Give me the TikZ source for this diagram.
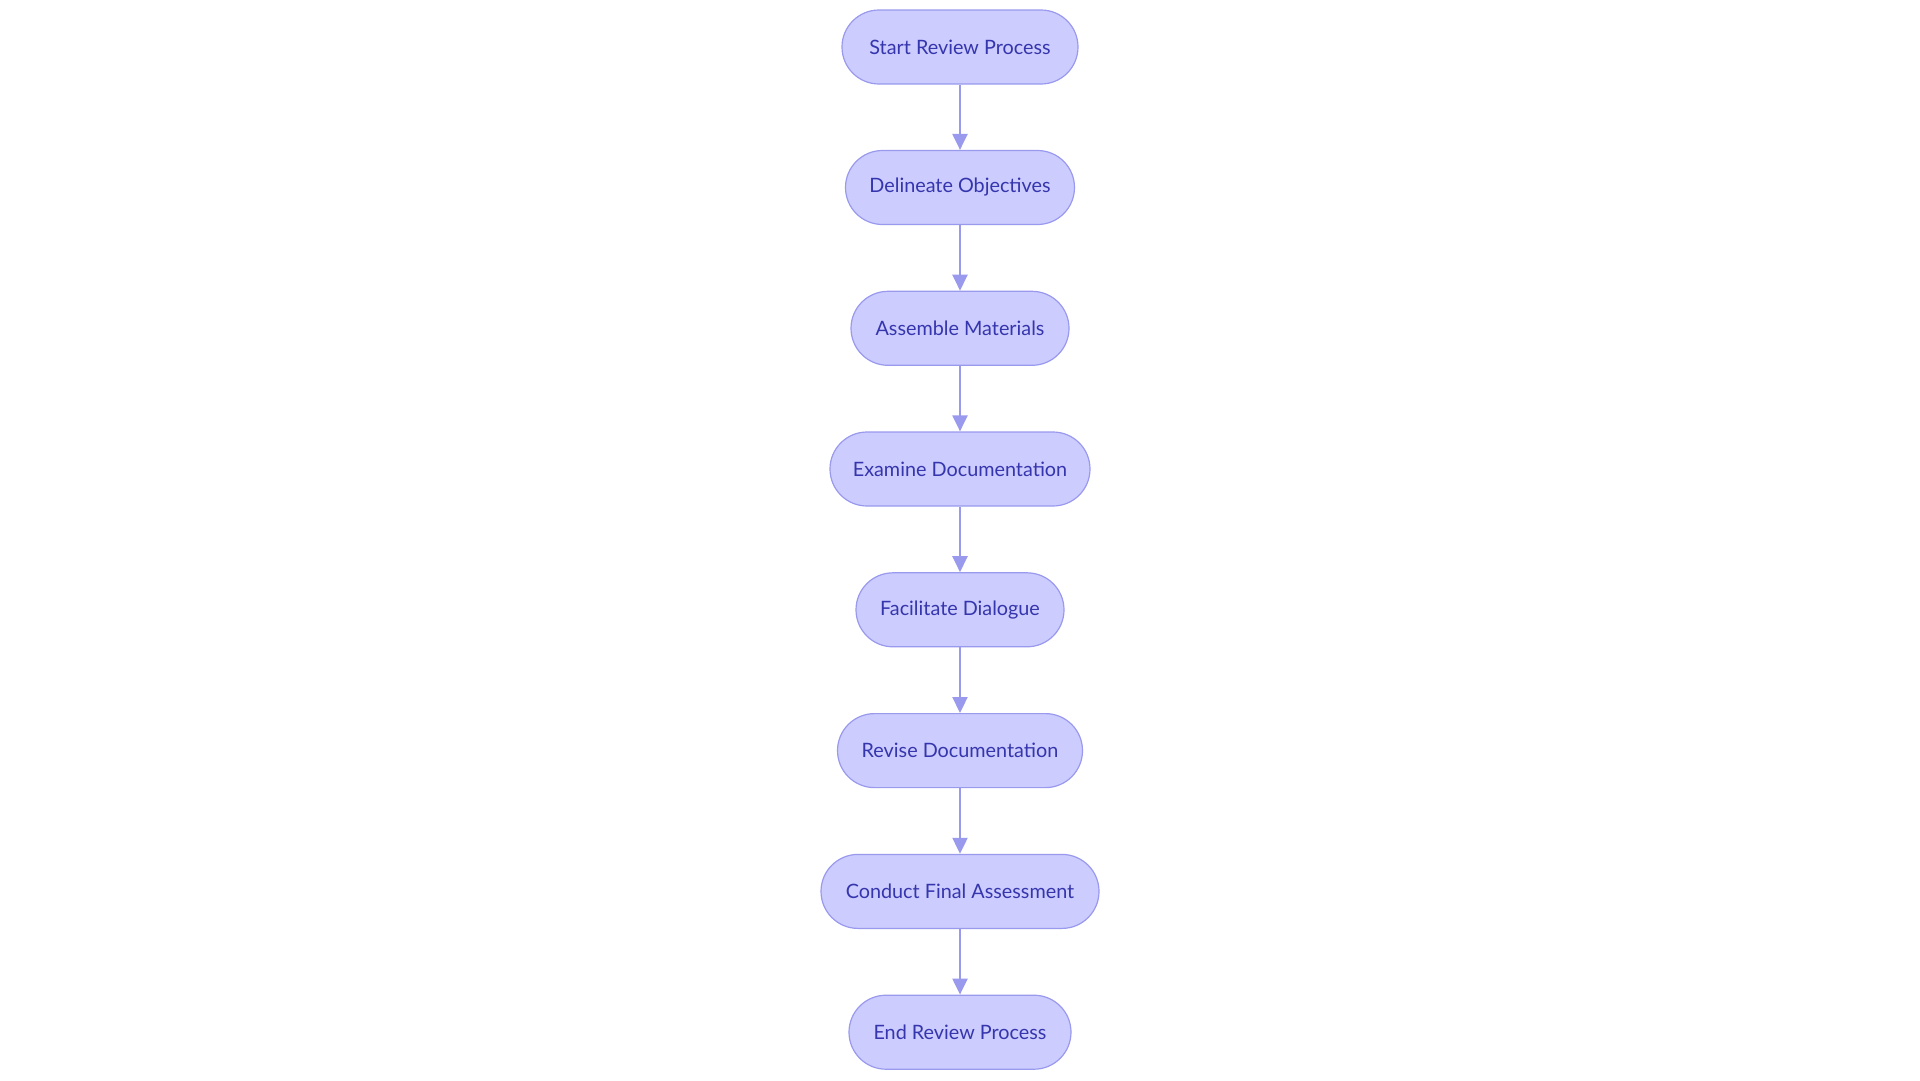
\documentclass[tikz,border=0pt]{standalone}
\usepackage{fontspec}
\setmainfont{Lato}
\usetikzlibrary{arrows.meta}
\definecolor{nodefill}{HTML}{CCCCFF}
\definecolor{nodedraw}{HTML}{9999EE}
\definecolor{nodetext}{HTML}{3535AD}
\begin{document}
\begin{tikzpicture}[x=1pt,y=-1pt,
  stagebox/.style={draw=nodedraw, fill=nodefill, line width=1.2pt, rounded corners=37pt,
    minimum height=74pt, inner sep=0pt, text=nodetext, font=\fontsize{19.8}{22}\selectfont},
  flow/.style={draw=nodedraw, line width=2.2pt, -{Triangle[length=16pt,width=15pt]}}]
\useasboundingbox (0,0) rectangle (1920,1080);
\node[stagebox, minimum width=236pt] (n1) at (960,47) {Start Review Process};
\node[stagebox, minimum width=229pt] (n2) at (960,187.5) {Delineate Objectives};
\node[stagebox, minimum width=218pt] (n3) at (960,328.3) {Assemble Materials};
\node[stagebox, minimum width=260pt] (n4) at (960,469) {Examine Documentation};
\node[stagebox, minimum width=208pt] (n5) at (960,609.8) {Facilitate Dialogue};
\node[stagebox, minimum width=245pt] (n6) at (960,750.6) {Revise Documentation};
\node[stagebox, minimum width=278pt] (n7) at (960,891.4) {Conduct Final Assessment};
\node[stagebox, minimum width=222pt] (n8) at (960,1032.2) {End Review Process};
\draw[flow] (n1) -- (n2);
\draw[flow] (n2) -- (n3);
\draw[flow] (n3) -- (n4);
\draw[flow] (n4) -- (n5);
\draw[flow] (n5) -- (n6);
\draw[flow] (n6) -- (n7);
\draw[flow] (n7) -- (n8);
\end{tikzpicture}
\end{document}
